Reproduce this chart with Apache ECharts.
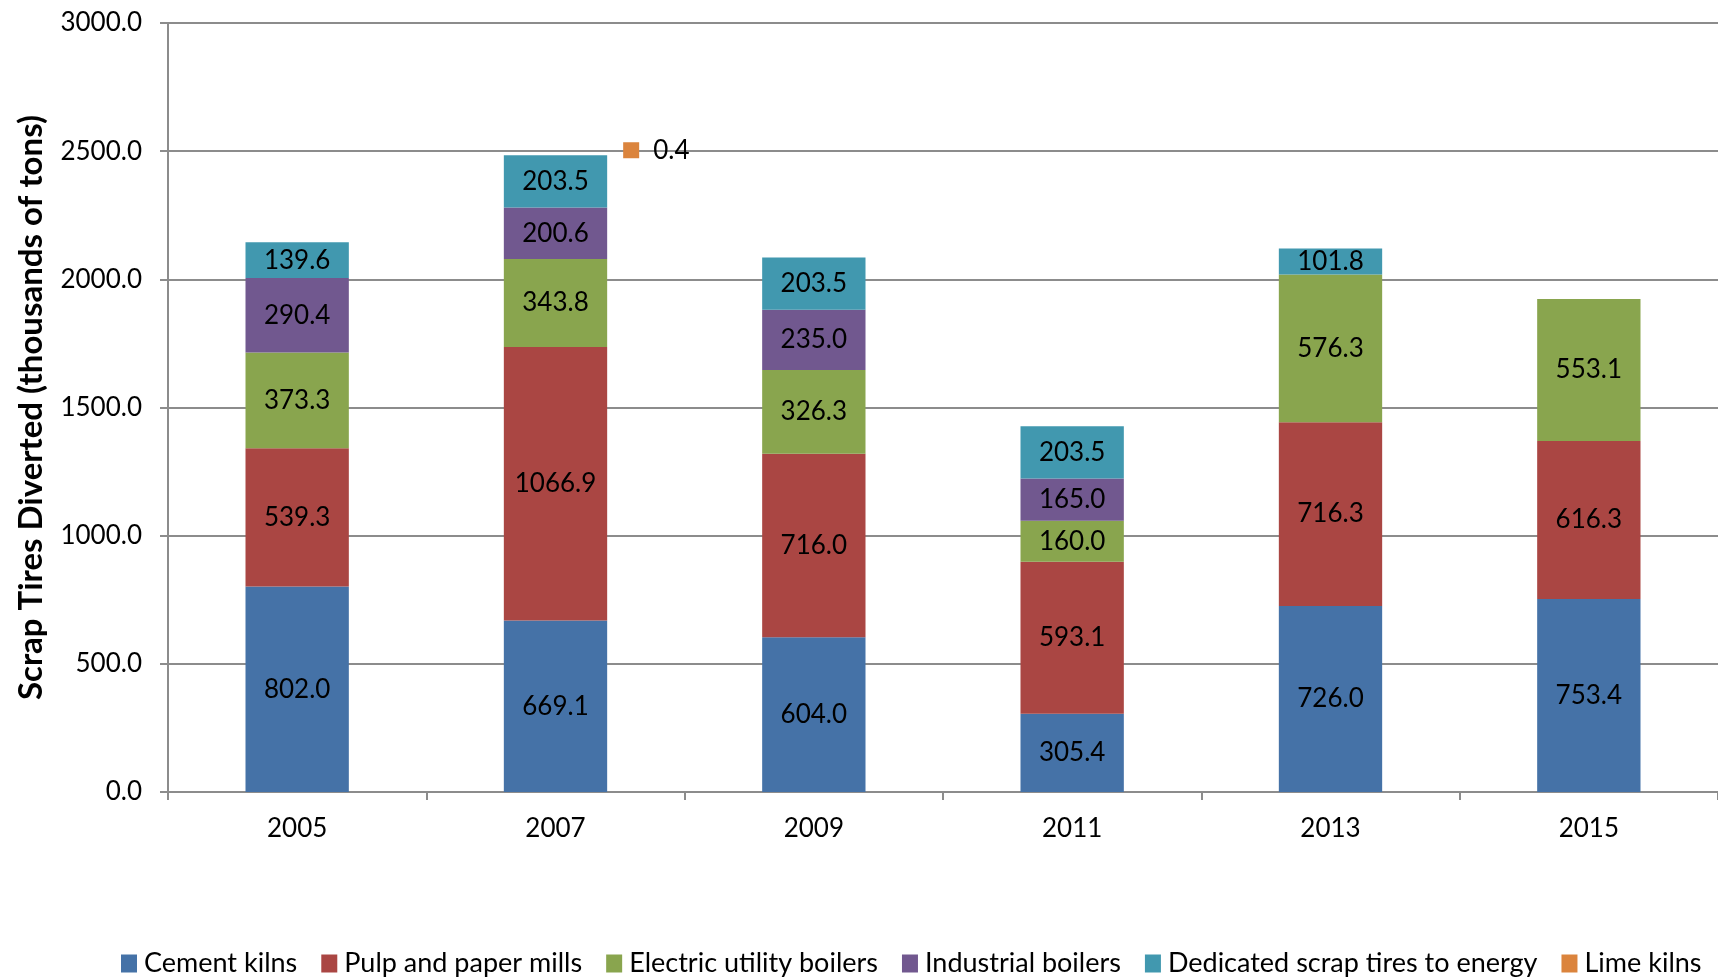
<!DOCTYPE html>
<html>
<head>
<meta charset="utf-8">
<script src="https://cdn.jsdelivr.net/npm/echarts@6/dist/echarts.min.js"></script>
<style>
  html, body { margin: 0; padding: 0; background: #fff; }
  #chart { width: 1718px; height: 979px; }
</style>
</head>
<body>
<div id="chart"></div>
<script>
const years = ['2005', '2007', '2009', '2011', '2013', '2015']
const cementKilns = [802.0, 669.1, 604.0, 305.4, 726.0, 753.4]
const pulpPaper = [539.3, 1066.9, 716.0, 593.1, 716.3, 616.3]
const electricUtility = [373.3, 343.8, 326.3, 160.0, 576.3, 553.1]
const industrialBoilers = [290.4, 200.6, 235.0, 165.0, null, null]
const dedicatedTires = [139.6, 203.5, 203.5, 203.5, 101.8, null]
const limeKilns = [null, 0.4, null, null, null, null]

const font = 'Lato, "Open Sans", sans-serif'
const colors = ['#4572A7', '#AA4643', '#89A54E', '#71588F', '#4198AF', '#DB843D']

const fmt = (p) => (p.value == null ? '' : Number(p.value).toFixed(1))

function stackSeries(name, data) {
  return {
    name: name,
    type: 'bar',
    stack: 'total',
    barWidth: '40%',
    data: data,
    label: {
      show: true,
      position: 'inside',
      color: '#000',
      fontFamily: font,
      fontSize: 26,
      formatter: fmt,
    },
  }
}

const chart = echarts.init(document.getElementById('chart'))
chart.setOption({
  color: colors,
  animation: false,
  grid: { left: 168, top: 23, width: 1557, height: 769 },
  legend: {
    bottom: -3,
    left: 116,
    itemWidth: 16,
    itemHeight: 18,
    itemGap: 24,
    icon: 'rect',
    textStyle: { fontFamily: font, fontSize: 27, color: '#000', padding: [0, 0, 0, 2] },
  },
  xAxis: {
    type: 'category',
    data: years,
    axisLine: { lineStyle: { color: '#8c8c8c', width: 2 } },
    axisTick: { show: true, length: 8, inside: false, lineStyle: { color: '#8c8c8c', width: 2 } },
    axisLabel: { color: '#000', fontFamily: font, fontSize: 26, margin: 24 },
  },
  yAxis: {
    type: 'value',
    min: 0,
    max: 3000,
    interval: 500,
    name: 'Scrap Tires Diverted (thousands of tons)',
    nameLocation: 'middle',
    nameGap: 120,
    nameTextStyle: { fontFamily: font, fontSize: 33, fontWeight: 'bold', color: '#000' },
    axisLine: { show: true, lineStyle: { color: '#8c8c8c', width: 2 } },
    axisTick: { show: true, length: 8, lineStyle: { color: '#8c8c8c', width: 2 } },
    axisLabel: {
      color: '#000',
      fontFamily: font,
      fontSize: 26,
      margin: 26,
      formatter: (v) => v.toFixed(1),
    },
    splitLine: { lineStyle: { color: '#8c8c8c', width: 2 } },
  },
  series: [
    stackSeries('Cement kilns', cementKilns),
    stackSeries('Pulp and paper mills', pulpPaper),
    stackSeries('Electric utility boilers', electricUtility),
    stackSeries('Industrial boilers', industrialBoilers),
    stackSeries('Dedicated scrap tires to energy', dedicatedTires),
    {
      name: 'Lime kilns',
      type: 'bar',
      stack: 'total',
      barWidth: '40%',
      data: limeKilns,
      label: {
        show: true,
        position: 'right',
        distance: 16,
        offset: [0, -5],
        formatter: (p) => (p.value == null ? '' : '{sq|}{v|' + Number(p.value).toFixed(1) + '}'),
        rich: {
          sq: { width: 16, height: 16, backgroundColor: colors[5] },
          v: { color: '#000', fontFamily: font, fontSize: 26, padding: [0, 0, 0, 14] },
        },
      },
    },
  ],
})
</script>
</body>
</html>
